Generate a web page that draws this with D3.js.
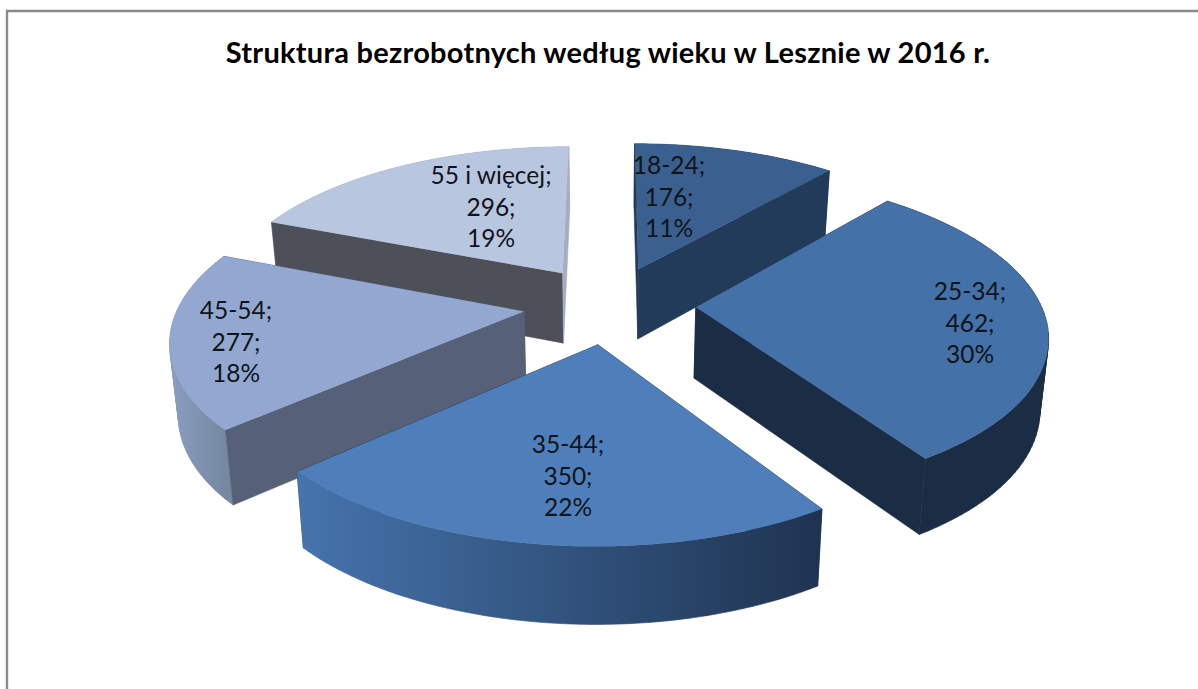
<!DOCTYPE html>
<html><head><meta charset="utf-8">
<script src="https://cdn.jsdelivr.net/npm/d3@7"></script>
<style>html,body{margin:0;padding:0;background:#fff}svg{display:block}</style>
</head><body><div id="c"></div>
<script>
const titleText = "Struktura bezrobotnych według wieku w Lesznie w 2016 r.";
const categories = ["18-24","25-34","35-44","45-54","55 i więcej"];
const values = [176,462,350,277,296];
const percents = ["11%","30%","22%","18%","19%"];
const topColors = ["#3a608f","#4371a8","#4f7fbb","#92a8d0","#b9c6e0"];
const wallColors = ["#223b59","#1b2d45","#1f3552","#566178","#4d5059"];
const endWallColors = ["#223b59","#1b2d45","#1f3552","#566178","#a3aec4"];
const rimLeft = ["#223b59","#1b2d45","#4674ad","#8a9ec2","#a3aec4"];
const rimRight = ["#223b59","#1b2d45","#1e3350","#75889f","#a3aec4"];
const labelAnchors = [[669,165],[970,291],[568,444],[236,310],[491,175]];
const drawOrder = [4,0,3,1,2];

const W=1198,H=689;
const svg=d3.select("#c").append("svg").attr("width",W).attr("height",H);
const defs=svg.append("defs");

// frame
svg.append("path").attr("d",`M7,${H}V11H${W}`).attr("fill","none").attr("stroke","#8a8a8a").attr("stroke-width",2.4);

svg.append("text").attr("x",608).attr("y",63).attr("text-anchor","middle")
  .attr("font-family","Lato").attr("font-weight",700).attr("font-size",29).attr("letter-spacing",0.25).attr("fill","#000").text(titleText);

// pie layout
const arcs=d3.pie().sort(null).startAngle(0).endAngle(2*Math.PI)(values);
const CX=609.5,CY=304.5,A=345,B=155.6,P=0.158,EX=0.25,DEPTH=71;
const project=(x,y,bottom)=>{
  const den=1+P*y;
  let sx=A*x/den, sy=-B*y/den;
  if(bottom){ sx*=0.98; sy+=DEPTH*(1-0.08*y); }
  return [CX+sx,CY+sy];
};
const line=d3.line();
arcs.forEach(a=>{a.mid=(a.startAngle+a.endAngle)/2;});

drawOrder.forEach(i=>{
  const a=arcs[i];
  const ox=EX*Math.sin(a.mid), oy=EX*Math.cos(a.mid);
  const rim=d3.range(0,61).map(k=>{
    const t=a.startAngle+(a.endAngle-a.startAngle)*k/60;
    return [ox+Math.sin(t),oy+Math.cos(t)];
  });
  const g=svg.append("g");
  const topPts=rim.map(p=>project(p[0],p[1],false));
  const botPts=rim.map(p=>project(p[0],p[1],true));
  const apexT=project(ox,oy,false), apexB=project(ox,oy,true);
  const xs=topPts.map(p=>p[0]);
  const id="rim"+i;
  const grad=defs.append("linearGradient").attr("id",id).attr("gradientUnits","userSpaceOnUse")
    .attr("x1",d3.min(xs)).attr("x2",d3.max(xs)).attr("y1",0).attr("y2",0);
  grad.append("stop").attr("offset",0).attr("stop-color",rimLeft[i]);
  grad.append("stop").attr("offset",1).attr("stop-color",rimRight[i]);

  // a radial wall faces the viewer when the slice's rim midpoint lies above the wall's edge line
  const midPt=topPts[30];
  const faces=(p)=>{
    const t=(midPt[0]-apexT[0])/(p[0]-apexT[0]);
    return midPt[1] < apexT[1]+t*(p[1]-apexT[1]);
  };
  const wall=(k,col)=>g.append("path").attr("d",line([apexT,topPts[k],botPts[k],apexB])+"Z")
    .attr("fill",col).attr("stroke",col).attr("stroke-width",0.6);
  const walls=[[0,wallColors[i]],[60,endWallColors[i]]];
  walls.filter(w=>!faces(topPts[w[0]])).forEach(w=>wall(w[0],w[1]));

  // rim as a union of consistently wound quads so the silhouette follows the tangent
  const quads=d3.range(0,60).map(k=>{
    const q=[topPts[k],topPts[k+1],botPts[k+1],botPts[k]];
    return d3.polygonArea(q)<0?q.reverse():q;
  });
  g.append("path").attr("d",quads.map(q=>line(q)+"Z").join("")).attr("fill",`url(#${id})`)
    .attr("stroke",`url(#${id})`).attr("stroke-width",0.6);

  walls.filter(w=>faces(topPts[w[0]])).forEach(w=>wall(w[0],w[1]));
  g.append("path").attr("d",line([apexT].concat(topPts))+"Z").attr("fill",topColors[i]);
});

// labels
categories.forEach((c,i)=>{
  const t=svg.append("text").attr("text-anchor","middle").attr("font-family","Lato").attr("font-size",24.5).attr("fill","#101418");
  [c+";",values[i]+";",percents[i]].forEach((s,k)=>{
    t.append("tspan").attr("x",labelAnchors[i][0]).attr("y",labelAnchors[i][1]+9+k*31.5).text(s);
  });
});
</script></body></html>
